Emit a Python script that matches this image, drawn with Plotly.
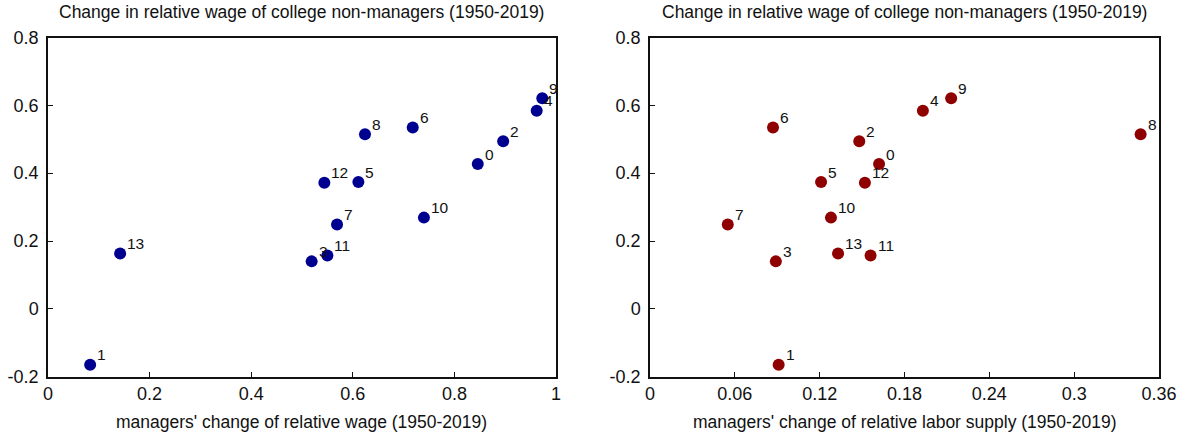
import plotly.graph_objects as go

labels = [str(i) for i in range(14)]
mgr_wage_change = [0.846, 0.083, 0.896, 0.519, 0.962, 0.611, 0.718, 0.569, 0.624, 0.973, 0.740, 0.550, 0.544, 0.142]
mgr_supply_change = [0.162, 0.091, 0.148, 0.089, 0.193, 0.121, 0.087, 0.055, 0.347, 0.213, 0.128, 0.156, 0.152, 0.133]
nonmgr_wage_change = [0.427, -0.165, 0.494, 0.140, 0.584, 0.374, 0.535, 0.249, 0.515, 0.621, 0.269, 0.157, 0.372, 0.163]

y_ticks = [-0.2, 0, 0.2, 0.4, 0.6, 0.8]
y_ticktext = ["-0.2", "0", "0.2", "0.4", "0.6", "0.8"]
x1_ticks = [0, 0.2, 0.4, 0.6, 0.8, 1]
x1_ticktext = ["0", "0.2", "0.4", "0.6", "0.8", "1"]
x2_ticks = [0, 0.06, 0.12, 0.18, 0.24, 0.3, 0.36]
x2_ticktext = ["0", "0.06", "0.12", "0.18", "0.24", "0.3", "0.36"]

title_text = "Change in relative wage of college non-managers (1950-2019)"
x1_title = "managers' change of relative wage (1950-2019)"
x2_title = "managers' change of relative labor supply (1950-2019)"

W, H = 1187, 439
FONT = "Liberation Sans, Arial, Helvetica, sans-serif"
TXT = "#111"


def px_x(p):
    return p / W


def px_y(p):
    return 1 - p / H


fig = go.Figure()
fig.add_trace(go.Scatter(
    x=mgr_wage_change, y=nonmgr_wage_change, mode="markers",
    marker=dict(size=12, color="#000090"),
    cliponaxis=False, xaxis="x", yaxis="y", showlegend=False,
))
fig.add_trace(go.Scatter(
    x=mgr_supply_change, y=nonmgr_wage_change, mode="markers",
    marker=dict(size=12, color="#8f0000"),
    cliponaxis=False, xaxis="x2", yaxis="y2", showlegend=False,
))

x1_dom = [px_x(48), px_x(556)]
x2_dom = [px_x(650), px_x(1159)]
y_dom = [px_y(376.7), px_y(37.5)]

axis_common = dict(
    showline=True, linecolor="#111", linewidth=1.5, mirror=True,
    ticks="inside", ticklen=5, tickwidth=1, tickcolor="#111",
    showgrid=False, zeroline=False, automargin=False,
    tickfont=dict(size=18, color=TXT, family=FONT),
)

annotations = []
for lab, xv, yv in zip(labels, mgr_wage_change, nonmgr_wage_change):
    annotations.append(dict(text=lab, x=xv, y=yv, xref="x", yref="y", showarrow=False,
                            xanchor="left", yanchor="middle", xshift=5, yshift=10,
                            font=dict(size=15.5, color=TXT)))
for lab, xv, yv in zip(labels, mgr_supply_change, nonmgr_wage_change):
    annotations.append(dict(text=lab, x=xv, y=yv, xref="x2", yref="y2", showarrow=False,
                            xanchor="left", yanchor="middle", xshift=5, yshift=10,
                            font=dict(size=15.5, color=TXT)))
for dom in (x1_dom, x2_dom):
    annotations.append(dict(text=title_text, x=sum(dom) / 2, y=px_y(12), xref="paper", yref="paper",
                            showarrow=False, font=dict(size=17.5, color=TXT),
                            xanchor="center", yanchor="middle"))
for dom, t in ((x1_dom, x1_title), (x2_dom, x2_title)):
    annotations.append(dict(text=t, x=sum(dom) / 2, y=px_y(422), xref="paper", yref="paper",
                            showarrow=False, font=dict(size=17.5, color=TXT),
                            xanchor="center", yanchor="middle"))

fig.update_layout(
    width=W, height=H,
    margin=dict(l=0, r=0, t=0, b=0),
    paper_bgcolor="white", plot_bgcolor="white",
    font=dict(family=FONT, color=TXT),
    xaxis=dict(domain=x1_dom, range=[0, 1], tickvals=x1_ticks, ticktext=x1_ticktext,
               anchor="y", **axis_common),
    yaxis=dict(domain=y_dom, range=[-0.2, 0.8], tickvals=y_ticks, ticktext=y_ticktext,
               anchor="x", ticklabelstandoff=4, **axis_common),
    xaxis2=dict(domain=x2_dom, range=[0, 0.36], tickvals=x2_ticks, ticktext=x2_ticktext,
                anchor="y2", **axis_common),
    yaxis2=dict(domain=y_dom, range=[-0.2, 0.8], tickvals=y_ticks, ticktext=y_ticktext,
                anchor="x2", ticklabelstandoff=4, **axis_common),
    annotations=annotations,
)

fig.write_html("out.html", config={"displayModeBar": False},
               post_script="document.body.style.margin='0';")
